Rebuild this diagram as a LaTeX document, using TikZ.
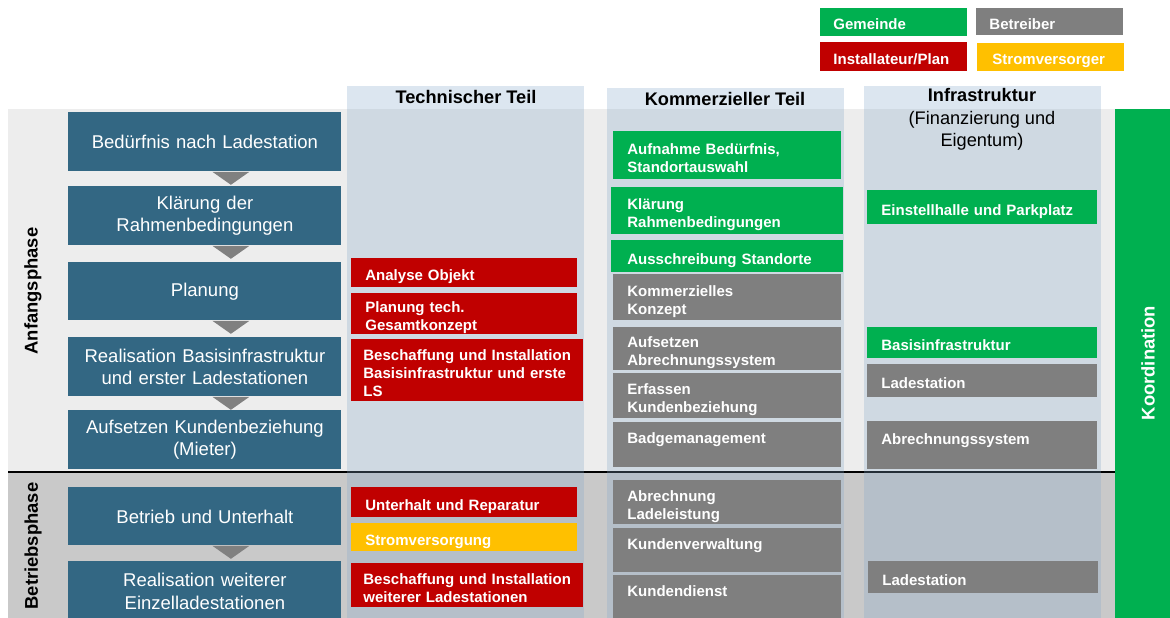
\documentclass[tikz,border=0pt]{standalone}
\usepackage{fontspec}
\setmainfont{Liberation Sans}
\definecolor{phaseblue}{RGB}{51,103,131}
\definecolor{gemgreen}{RGB}{0,176,80}
\definecolor{betrgray}{RGB}{127,127,127}
\definecolor{instred}{RGB}{192,0,0}
\definecolor{stromyellow}{RGB}{255,192,0}
\definecolor{bandlight}{RGB}{237,237,237}
\definecolor{banddark}{RGB}{201,201,201}
\definecolor{colblue}{RGB}{130,166,201}
\definecolor{trigray}{RGB}{128,128,128}
\begin{document}
\begin{tikzpicture}[x=0.5pt,y=-0.5pt,
    every node/.style={text=white, font=\fontsize{7.5}{9}\selectfont\bfseries},
    cell/.style={anchor=north west, inner xsep=7pt, inner ysep=0pt, align=left,
        execute at begin node={\rule{0pt}{9.6pt}},
        execute at end node={\rule[-1.6pt]{0pt}{1.6pt}}},
    uptext/.style={execute at end node={\rule[-#1]{0pt}{#1}}},
    tcell/.style={cell, text width=99pt},
    widecell/.style={cell, inner xsep=6pt, text width=104pt},
    kcell/.style={cell, text width=100pt},
    icell/.style={cell, text width=101pt},
    legcell/.style={cell, inner xsep=6.5pt, text width=60.5pt, uptext=2.4pt},
    phase/.style={anchor=north west, fill=phaseblue, inner xsep=3.25pt, text width=130pt,
        minimum height=29.5pt, align=center, font=\fontsize{9.25}{11.25}\selectfont},
    head/.style={text=black, align=center, font=\fontsize{9.1}{11.25}\selectfont},
    side/.style={text=black, rotate=90, font=\fontsize{9.2}{11}\selectfont\bfseries},
    tri/.style={fill=trigray}]
\useasboundingbox (0,0) rectangle (1170,617);
% phases in the background
\fill[bandlight] (8,109) rectangle (1115,472);
\fill[banddark] (8,472) rectangle (1115,620);
\draw[line width=1.25pt] (8,472) -- (1115,472);
\fill[gemgreen] (1115,109) rectangle (1170,620);
% columns
\fill[colblue, opacity=0.28] (347,86) rectangle (584,620);
\fill[colblue, opacity=0.28] (607,88) rectangle (844,620);
\fill[colblue, opacity=0.28] (864,86) rectangle (1101,620);
\node[head] (htech) at (466,97) {\bfseries Technischer Teil};
\node[head] (hkomm) at (725,99) {\bfseries Kommerzieller Teil};
\node[head] (hinfra) at (982,119.5) {\bfseries Infrastruktur\\(Finanzierung und\\Eigentum)};
\node[side] (lanfang) at (33,291) {Anfangsphase};
\node[side] (lbetrieb) at (33,546) {Betriebsphase};
\node[side, text=white] (lkoord) at (1148,363) {Koordination};
% legend
\node[legcell, fill=gemgreen, minimum height=14pt] (lgem) at (820,8) {Gemeinde};
\node[legcell, fill=betrgray, minimum height=13.5pt] (lbetr) at (976,8) {Betreiber};
\node[legcell, fill=instred, minimum height=14.5pt] (linst) at (820,42) {Installateur/Plan};
\node[legcell, fill=stromyellow, inner xsep=7.5pt, text width=58.5pt, minimum height=14pt] (lstrom) at (977,43) {Stromversorger};
% process steps
\node[phase] (p1) at (68,112) {Bedürfnis nach Ladestation};
\node[phase] (p2) at (68,186) {Klärung der\\Rahmenbedingungen};
\node[phase, minimum height=29pt] (p3) at (68,262) {Planung};
\node[phase] (p4) at (68,337) {Realisation Basisinfrastruktur\\und erster Ladestationen};
\node[phase] (p5) at (68,410) {Aufsetzen Kundenbeziehung\\(Mieter)};
\node[phase, minimum height=29pt] (p6) at (68,487) {Betrieb und Unterhalt};
\node[phase, minimum height=30pt] (p7) at (68,561) {Realisation weiterer\\Einzelladestationen};
\foreach \a in {p1,p2,p3,p4,p6}
  \fill[tri] ([xshift=3.75pt]\a.south) -- ++(37,0) -- ++(-18.5,13) -- cycle;
% technischer Teil
\node[tcell, fill=instred, minimum height=14.5pt] (tanalyse) at (351,258) {Analyse Objekt};
\node[tcell, fill=instred, minimum height=20.5pt] (tplanung) at (351,293) {Planung tech.\\Gesamtkonzept};
\node[widecell, fill=instred, minimum height=31pt] (tbeschaff) at (351,339) {Beschaffung und Installation\\Basisinfrastruktur und erste\\LS};
\node[tcell, fill=instred, minimum height=15pt] (tunterhalt) at (351,487) {Unterhalt und Reparatur};
\node[tcell, fill=stromyellow, minimum height=14pt] (tstrom) at (351,523) {Stromversorgung};
\node[widecell, fill=instred, minimum height=22pt] (tweitere) at (351,563) {Beschaffung und Installation\\weiterer Ladestationen};
% kommerzieller Teil
\node[kcell, fill=gemgreen, minimum height=24pt] (kaufnahme) at (613,131) {Aufnahme Bedürfnis,\\Standortauswahl};
\node[kcell, fill=gemgreen, inner xsep=8pt, minimum height=23.5pt] (kklaerung) at (611,187) {Klärung\\Rahmenbedingungen};
\node[kcell, fill=gemgreen, inner xsep=8pt, minimum height=16pt] (kausschr) at (611,240) {Ausschreibung Standorte};
\node[kcell, fill=betrgray, minimum height=23pt] (kkonzept) at (613,274) {Kommerzielles\\Konzept};
\node[kcell, fill=betrgray, minimum height=21.5pt] (kabrsys) at (613,327) {Aufsetzen\\Abrechnungssystem};
\node[kcell, fill=betrgray, minimum height=22.5pt] (kerfassen) at (613,373) {Erfassen\\Kundenbeziehung};
\node[kcell, fill=betrgray, minimum height=22.5pt, uptext=10.7pt] (kbadge) at (613,422) {Badgemanagement};
\node[kcell, fill=betrgray, minimum height=22pt] (kabrlade) at (613,480) {Abrechnung\\Ladeleistung};
\node[kcell, fill=betrgray, minimum height=22pt, uptext=10.2pt] (kverw) at (613,528) {Kundenverwaltung};
\node[kcell, fill=betrgray, minimum height=22.5pt, uptext=10.7pt] (kdienst) at (613,575) {Kundendienst};
% infrastruktur
\node[icell, fill=gemgreen, minimum height=17pt] (ieinstell) at (867,190) {Einstellhalle und Parkplatz};
\node[icell, fill=gemgreen, minimum height=15.5pt] (ibasis) at (867,327) {Basisinfrastruktur};
\node[icell, fill=betrgray, minimum height=16.5pt] (iladest) at (867,364) {Ladestation};
\node[icell, fill=betrgray, minimum height=24pt, uptext=10.2pt] (iabrsys) at (867,421) {Abrechnungssystem};
\node[icell, fill=betrgray, minimum height=16pt] (iladestb) at (868,561) {Ladestation};
\end{tikzpicture}
\end{document}
